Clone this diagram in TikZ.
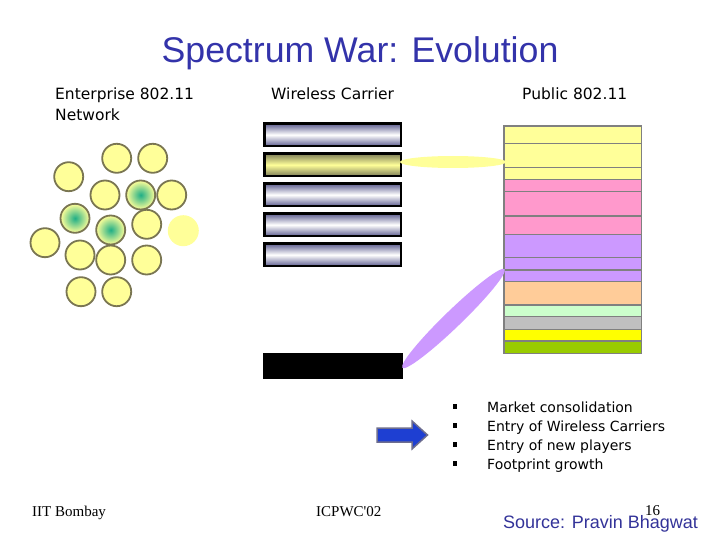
\documentclass[tikz,border=0pt]{standalone}
\usepackage{fontspec}
\setmainfont{DejaVu Sans}
\newfontfamily\arialf{Liberation Sans}
\newfontfamily\timesf{Liberation Serif}
\usetikzlibrary{shapes.geometric}
\definecolor{cellfill}{HTML}{FFFF99}
\definecolor{celledge}{HTML}{7A7652}
\definecolor{hotteal}{HTML}{1FAE86}
\definecolor{barblue}{HTML}{5E5E90}
\definecolor{baryel}{HTML}{7E7E58}
\definecolor{colY}{HTML}{FFFF99}
\definecolor{colP}{HTML}{FF99CC}
\definecolor{colV}{HTML}{CC99FF}
\definecolor{colO}{HTML}{FFCC99}
\definecolor{colG}{HTML}{CCFFCC}
\definecolor{colS}{HTML}{C0C0C0}
\definecolor{colYY}{HTML}{FFFF00}
\definecolor{colGG}{HTML}{99CC00}
\definecolor{coledge}{HTML}{808080}
\definecolor{titleblue}{HTML}{3333AA}
\definecolor{srcblue}{HTML}{333399}
\definecolor{arrowblue}{HTML}{1E3FD2}
\definecolor{arrowedge}{HTML}{6E6E8E}
\begin{document}
\begin{tikzpicture}[x=1pt,y=-1pt,
  cell/.style={circle, draw=celledge, line width=1.8pt, fill=cellfill, minimum size=29pt, inner sep=0pt},
  hotcell/.style={cell, shading=radial, inner color=hotteal, outer color=cellfill},
  faded/.style={circle, fill=cellfill, minimum size=31pt, inner sep=0pt},
  barbox/.style={rectangle, draw=black, line width=2.5pt, minimum width=136.5pt, minimum height=22.5pt, inner sep=0pt, top color=barblue, bottom color=barblue, middle color=white},
  yelbar/.style={barbox, top color=baryel, bottom color=baryel, middle color=cellfill},
  rowbox/.style={draw=coledge, line width=1.5pt},
  hdr/.style={font=\fontsize{15.5}{18}\selectfont, anchor=base west, inner sep=0pt},
  bultext/.style={font=\fontsize{14}{17}\selectfont, anchor=base west, inner sep=0pt},
  bulsq/.style={rectangle, fill=black, minimum width=4.5pt, minimum height=5pt, inner sep=0pt},
  foot/.style={font=\timesf\fontsize{15}{17}\selectfont, inner sep=0pt}
]
\useasboundingbox[fill=white] (0,0) rectangle (720,540);

% title
\node[font=\arialf\fontsize{35.7}{40}\selectfont, text=titleblue, inner sep=0pt] (title) at (360,53) {Spectrum War: Evolution};

% headers
\node[hdr] (h1) at (55,100) {Enterprise 802.11};
\node[hdr] (h1b) at (55,121) {Network};
\node[hdr] (h2) at (271,100) {Wireless Carrier};
\node[hdr] (h3) at (522,100) {Public 802.11};

% enterprise cells
\node[cell] (c1) at (116.7,158.3) {};
\node[cell] (c2) at (152.7,158.3) {};
\node[cell] (c3) at (68.7,176.7) {};
\node[cell] (c4) at (105,195) {};
\node[hotcell] (c5) at (140.7,195) {};
\node[cell] (c6) at (171.7,195) {};
\node[hotcell] (c7) at (75,218.3) {};
\node[hotcell] (c8) at (110.7,230) {};
\node[cell] (c9) at (146.7,224.3) {};
\node[faded] (c10) at (183.3,230.7) {};
\node[cell] (c11) at (45,242.7) {};
\node[cell] (c12) at (80,255) {};
\node[cell] (c13) at (110.7,260) {};
\node[cell] (c14) at (146.7,260) {};
\node[cell] (c15) at (81,291.7) {};
\node[cell] (c16) at (116.7,291.7) {};

% wireless carrier bars
\node[barbox] (b1) at (332.5,134.8) {};
\node[yelbar] (b2) at (332.5,164.8) {};
\node[barbox] (b3) at (332.5,194.8) {};
\node[barbox] (b4) at (332.5,224.8) {};
\node[barbox] (b5) at (332.5,254.8) {};
\node[rectangle, fill=black, minimum width=140pt, minimum height=26pt, inner sep=0pt] (bk) at (333,366) {};

% public 802.11 column
\foreach \ya/\yb/\cc in {126/143.3/colY, 143.3/167.7/colY, 167.7/179.3/colY,
  179.3/191.7/colP, 191.7/216/colP, 216/234.3/colP,
  234.3/257.7/colV, 257.7/270/colV, 270/281.7/colV,
  281.7/305/colO, 305/316.7/colG, 316.7/329.3/colS,
  329.3/341/colYY, 341/353.3/colGG}
  {\draw[rowbox, fill=\cc] (504,\ya) rectangle (641.7,\yb);}

% spectrum connectors (ellipses)
\fill[cellfill] (453,162) ellipse [x radius=53, y radius=6];
\fill[colV] (453.5,318.5) ellipse [x radius=71, y radius=8.5, rotate=44];

% arrow
\draw[fill=arrowblue, draw=arrowedge, line width=1.5pt, line join=miter]
  (377,428) -- (412,428) -- (412,421) -- (427.5,435) -- (412,449) -- (412,442) -- (377,442) -- cycle;

% bullets
\node[bulsq] (s1) at (455,406.5) {};
\node[bulsq] (s2) at (455,425.5) {};
\node[bulsq] (s3) at (455,444.5) {};
\node[bulsq] (s4) at (455,463.5) {};
\node[bultext] (t1) at (487,412) {Market consolidation};
\node[bultext] (t2) at (487,431) {Entry of Wireless Carriers};
\node[bultext] (t3) at (487,450) {Entry of new players};
\node[bultext] (t4) at (487,469) {Footprint growth};

% footer
\node[foot, anchor=base west] (f1) at (32,516) {IIT Bombay};
\node[foot, anchor=base west] (f2) at (316,516) {ICPWC'02};
\node[foot, anchor=base west] (f3) at (645,515) {16};
\node[font=\arialf\fontsize{18}{20}\selectfont, text=srcblue, anchor=base west, inner sep=0pt] (src) at (503,528) {Source: Pravin Bhagwat};
\end{tikzpicture}
\end{document}
